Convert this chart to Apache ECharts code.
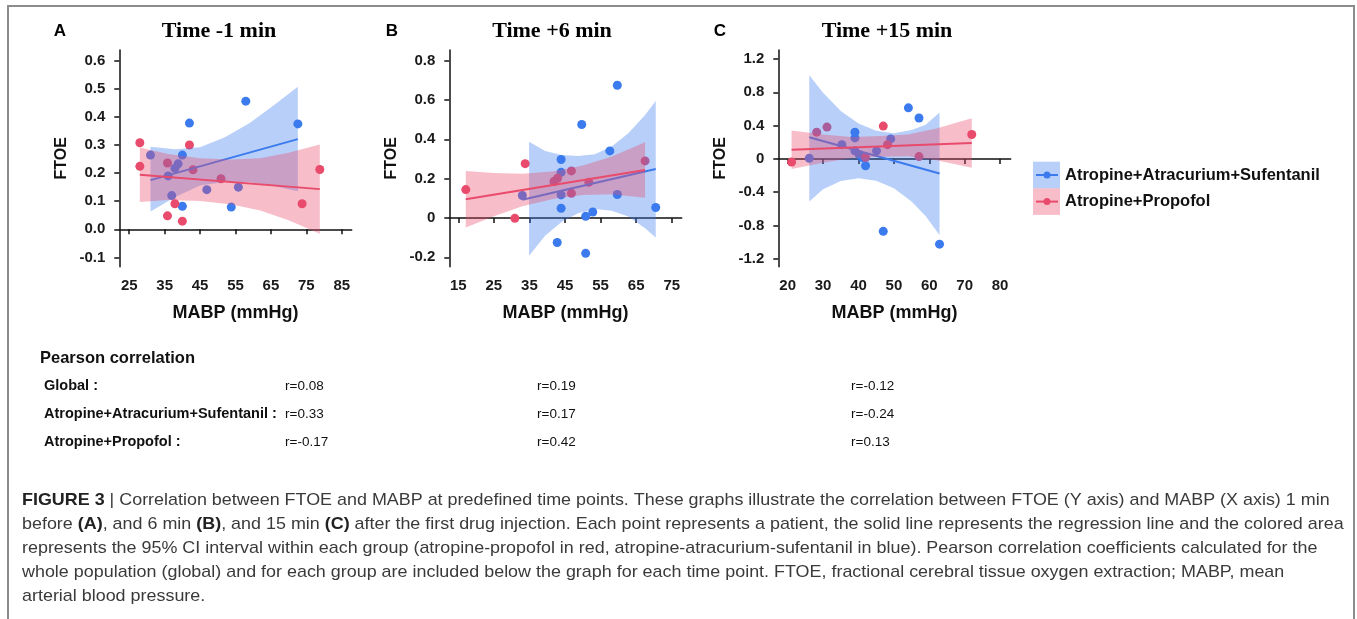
<!DOCTYPE html>
<html>
<head>
<meta charset="utf-8">
<script src="https://cdn.jsdelivr.net/npm/echarts@6/dist/echarts.min.js"></script>
<style>
  html, body { margin: 0; padding: 0; background: #fff; }
  #chart { width: 1357px; height: 619px; }
</style>
</head>
<body>
<div id="chart"></div>
<script>
// 数据：每个病人的 [MABP, FTOE]
// 面板 A: Time -1 min
const aBlue = [[31.0,0.264],[36.0,0.190],[37.0,0.120],[37.9,0.217],[38.8,0.233],[40.0,0.264],[40.0,0.082],[42.0,0.378],[46.9,0.141],[53.8,0.079],[55.8,0.150],[57.9,0.456],[72.6,0.375]];
const aRed = [[28.0,0.308],[28.0,0.224],[35.8,0.048],[35.8,0.236],[37.9,0.091],[40.0,0.029],[42.0,0.300],[43.0,0.212],[50.9,0.180],[73.8,0.091],[78.8,0.213]];
const aBlueFit = [[31.0,0.175],[72.6,0.321]];
const aRedFit = [[28.0,0.194],[78.8,0.143]];
// 置信带 [x, 下界, 上界]
const aBlueBand = [[31,0.063,0.294],[38,0.115,0.285],[45,0.156,0.292],[52,0.168,0.328],[59,0.168,0.378],[66,0.153,0.443],[72.6,0.135,0.507]];
const aRedBand = [[28,0.097,0.291],[36,0.104,0.268],[45,0.101,0.253],[54,0.088,0.248],[62,0.067,0.253],[70,0.032,0.272],[78.8,-0.016,0.302]];

// 面板 B: Time +6 min
const bBlue = [[33.0,0.114],[43.9,0.297],[43.9,0.232],[43.9,0.117],[43.9,0.049],[49.7,0.475],[50.8,0.008],[52.8,0.030],[42.8,-0.125],[50.8,-0.180],[57.6,0.341],[59.7,0.675],[59.7,0.119],[70.5,0.053]];
const bRed = [[17.1,0.144],[30.9,-0.002],[33.8,0.276],[41.9,0.185],[42.9,0.202],[46.8,0.239],[46.8,0.125],[51.7,0.181],[67.5,0.290]];
const bBlueFit = [[33.0,0.092],[70.5,0.249]];
const bRedFit = [[17.1,0.095],[67.5,0.244]];
const bBlueBand = [[34.9,-0.192,0.388],[39.4,-0.090,0.341],[44.1,-0.019,0.320],[48.7,0.024,0.315],[53.4,0.046,0.324],[58.1,0.037,0.363],[62.8,0.007,0.431],[67.5,-0.053,0.524],[70.5,-0.100,0.595]];
const bRedBand = [[17.1,-0.049,0.239],[25,0.008,0.228],[33,0.059,0.225],[42,0.098,0.238],[50,0.117,0.267],[58,0.121,0.311],[67.5,0.103,0.385]];

// 面板 C: Time +15 min
const cBlue = [[26.1,0.008],[35.3,0.171],[39.0,0.321],[39.0,0.252],[39.0,0.097],[40.2,0.049],[41.1,0.016],[42.0,-0.082],[45.1,0.097],[47.0,-0.871],[49.1,0.240],[54.1,0.614],[57.1,0.492],[62.9,-1.025]];
const cRed = [[21.1,-0.037],[28.2,0.321],[31.1,0.382],[42.0,0.016],[47.0,0.394],[48.2,0.171],[57.1,0.028],[72.0,0.293]];
const cBlueFit = [[26.1,0.260],[62.9,-0.175]];
const cRedFit = [[21.1,0.110],[72.0,0.191]];
const cBlueBand = [[26.1,-0.513,1.005],[30,-0.366,0.794],[35,-0.265,0.575],[40,-0.234,0.426],[45,-0.263,0.337],[50,-0.352,0.308],[55,-0.512,0.348],[59,-0.690,0.410],[62.9,-0.916,0.557]];
const cRedBand = [[21.1,-0.122,0.342],[30,-0.046,0.294],[38,0.012,0.262],[46,0.025,0.275],[54,0.032,0.292],[62,-0.015,0.365],[72,-0.106,0.488]];

// 刻度
const aXTicks = [25, 35, 45, 55, 65, 75, 85];
const aYTicks = [-0.1, 0, 0.1, 0.2, 0.3, 0.4, 0.5, 0.6];
const bXTicks = [15, 25, 35, 45, 55, 65, 75];
const bYTicks = [-0.2, 0, 0.2, 0.4, 0.6, 0.8];
const cXTicks = [20, 30, 40, 50, 60, 70, 80];
const cYTicks = [-1.2, -0.8, -0.4, 0, 0.4, 0.8, 1.2];

const panelTitles = ['Time -1 min', 'Time +6 min', 'Time +15 min'];
const groupNames = ['Atropine+Atracurium+Sufentanil', 'Atropine+Propofol'];
const corrRows = ['Global :', 'Atropine+Atracurium+Sufentanil :', 'Atropine+Propofol :'];
const corrValues = [
    ['r=0.08', 'r=0.19', 'r=-0.12'],
    ['r=0.33', 'r=0.17', 'r=-0.24'],
    ['r=-0.17', 'r=0.42', 'r=0.13']
];

const BLUE = '#3b7bee';
const RED = '#e94b6c';
const FONT = 'Liberation Sans, Arial, sans-serif';

const grids = [
    { left: 119.3, top: 50, width: 232.4, height: 216.7 },
    { left: 449.3, top: 50, width: 232.4, height: 216.7 },
    { left: 778.3, top: 50, width: 232.4, height: 216.7 }
];

function xAxisCfg(i, min, max, ticks) {
    return {
        type: 'value', gridIndex: i, min: min, max: max,
        name: 'MABP (mmHg)', nameLocation: 'middle', nameGap: 37,
        nameTextStyle: { fontFamily: FONT, fontWeight: 'bold', fontSize: 18, color: '#111' },
        axisLine: { show: true, lineStyle: { color: '#111', width: 1.5 } },
        axisTick: { show: true, length: 5, customValues: ticks, lineStyle: { color: '#111', width: 1.5 } },
        axisLabel: { customValues: ticks, margin: 12, fontFamily: FONT, fontWeight: 'bold', fontSize: 15, color: '#1a1a1a' },
        splitLine: { show: false }
    };
}

function yAxisCfg(i, min, max, ticks, fmt) {
    return {
        type: 'value', gridIndex: i, min: min, max: max,
        name: 'FTOE', nameLocation: 'middle', nameGap: 50, nameRotate: 90,
        nameTextStyle: { fontFamily: FONT, fontWeight: 'bold', fontSize: 16, color: '#111' },
        axisLine: { show: true, lineStyle: { color: '#111', width: 1.5 } },
        axisTick: { show: true, length: 5, customValues: ticks, lineStyle: { color: '#111', width: 1.5 } },
        axisLabel: { customValues: ticks, margin: 14, formatter: fmt, fontFamily: FONT, fontWeight: 'bold', fontSize: 15, color: '#1a1a1a' },
        splitLine: { show: false }
    };
}

const fmtA = v => v.toFixed(1);
const fmtBC = v => Math.abs(v) < 1e-9 ? '0' : v.toFixed(1);

// 置信带多边形
function bandSeries(i, band, color, z) {
    return {
        type: 'custom', xAxisIndex: i, yAxisIndex: i, z: z, silent: true,
        data: band, encode: { x: 0, y: [1, 2] },
        renderItem: function (params, api) {
            if (params.dataIndex !== 0) return;
            const upper = band.map(r => api.coord([r[0], r[2]]));
            const lower = band.slice().reverse().map(r => api.coord([r[0], r[1]]));
            return {
                type: 'polygon',
                shape: { points: upper.concat(lower) },
                style: { fill: color, opacity: 0.36 }
            };
        }
    };
}

function scatterSeries(i, data, color) {
    return {
        type: 'scatter', xAxisIndex: i, yAxisIndex: i, z: 2,
        data: data, symbolSize: 9, itemStyle: { color: color, opacity: 1 }
    };
}

function fitSeries(i, data, color, z) {
    return {
        type: 'line', xAxisIndex: i, yAxisIndex: i, z: z,
        data: data, showSymbol: false, lineStyle: { color: color, width: 2 }
    };
}

const panels = [
    [aBlue, aRed, aBlueFit, aRedFit, aBlueBand, aRedBand],
    [bBlue, bRed, bBlueFit, bRedFit, bBlueBand, bRedBand],
    [cBlue, cRed, cBlueFit, cRedFit, cBlueBand, cRedBand]
];

const series = [];
panels.forEach((p, i) => {
    series.push(scatterSeries(i, p[0], BLUE));
    series.push(scatterSeries(i, p[1], RED));
    series.push(bandSeries(i, p[4], BLUE, 3));
    series.push(fitSeries(i, p[2], BLUE, 4));
    series.push(bandSeries(i, p[5], RED, 5));
    series.push(fitSeries(i, p[3], RED, 6));
});

// 图例、相关系数表、图注
const graphics = [
    { type: 'rect', z: 0, shape: { x: 8, y: 6, width: 1346, height: 640 }, style: { fill: 'none', stroke: '#8c8c8c', lineWidth: 2 } }
];
[BLUE, RED].forEach((c, k) => {
    const y0 = 161.7 + k * 26.6;
    graphics.push({ type: 'rect', shape: { x: 1033, y: y0, width: 27, height: 26.6 }, style: { fill: c, opacity: 0.36 } });
    graphics.push({ type: 'line', shape: { x1: 1036, y1: y0 + 13.3, x2: 1058, y2: y0 + 13.3 }, style: { stroke: c, lineWidth: 2 } });
    graphics.push({ type: 'circle', shape: { cx: 1047, cy: y0 + 13.3, r: 3.5 }, style: { fill: c } });
    graphics.push({ type: 'text', x: 1065, y: y0 + 13.3, style: { text: groupNames[k], fontFamily: FONT, fontWeight: 'bold', fontSize: 16.5, fill: '#111', verticalAlign: 'middle' } });
});

graphics.push({ type: 'text', x: 40, y: 358, style: { text: 'Pearson correlation', fontFamily: FONT, fontWeight: 'bold', fontSize: 16.5, fill: '#111', verticalAlign: 'middle' } });
const colX = [285, 537, 851];
corrRows.forEach((row, r) => {
    const y = 386 + r * 28;
    graphics.push({ type: 'text', x: 44, y: y, style: { text: row, fontFamily: FONT, fontWeight: 'bold', fontSize: 14.5, fill: '#111', verticalAlign: 'middle' } });
    corrValues[r].forEach((v, c) => {
        graphics.push({ type: 'text', x: colX[c], y: y, style: { text: v, fontFamily: FONT, fontSize: 13.5, fill: '#111', verticalAlign: 'middle' } });
    });
});

const captionLines = [
    '{b|FIGURE 3} | Correlation between FTOE and MABP at predefined time points. These graphs illustrate the correlation between FTOE (Y axis) and MABP (X axis) 1 min',
    'before {b|(A)}, and 6 min {b|(B)}, and 15 min {b|(C)} after the first drug injection. Each point represents a patient, the solid line represents the regression line and the colored area',
    'represents the 95% CI interval within each group (atropine-propofol in red, atropine-atracurium-sufentanil in blue). Pearson correlation coefficients calculated for the',
    'whole population (global) and for each group are included below the graph for each time point. FTOE, fractional cerebral tissue oxygen extraction; MABP, mean',
    'arterial blood pressure.'
];
captionLines.forEach((line, k) => {
    graphics.push({
        type: 'text', x: 22, y: 500 + k * 24.2, scaleX: 1.054,
        style: {
            text: line, fontFamily: FONT, fontSize: 17, fill: '#3a3a3a', verticalAlign: 'middle',
            rich: { b: { fontFamily: FONT, fontSize: 17, fontWeight: 'bold', fill: '#222' } }
        }
    });
});

const titleCenters = [219, 552, 887];
const letters = ['A', 'B', 'C'];
const letterX = [60, 392, 720];
const titles = [];
panelTitles.forEach((t, i) => {
    titles.push({ text: t, left: titleCenters[i], top: 20, textAlign: 'center', padding: 0,
        textStyle: { fontFamily: 'Liberation Serif, Times New Roman, serif', fontWeight: 'bold', fontSize: 22, color: '#000' } });
    titles.push({ text: letters[i], left: letterX[i], top: 23, textAlign: 'center', padding: 0,
        textStyle: { fontFamily: FONT, fontWeight: 'bold', fontSize: 17, color: '#000' } });
});

const chart = echarts.init(document.getElementById('chart'));
chart.setOption({
    backgroundColor: '#fff',
    animation: false,
    title: titles,
    grid: grids,
    xAxis: [xAxisCfg(0, 22.2, 87.8, aXTicks), xAxisCfg(1, 12.47, 77.8, bXTicks), xAxisCfg(2, 17.35, 83, cXTicks)],
    yAxis: [yAxisCfg(0, -0.133, 0.638, aYTicks, fmtA), yAxisCfg(1, -0.248, 0.854, bYTicks, fmtBC), yAxisCfg(2, -1.296, 1.309, cYTicks, fmtBC)],
    series: series,
    graphic: graphics
});
</script>
</body>
</html>
